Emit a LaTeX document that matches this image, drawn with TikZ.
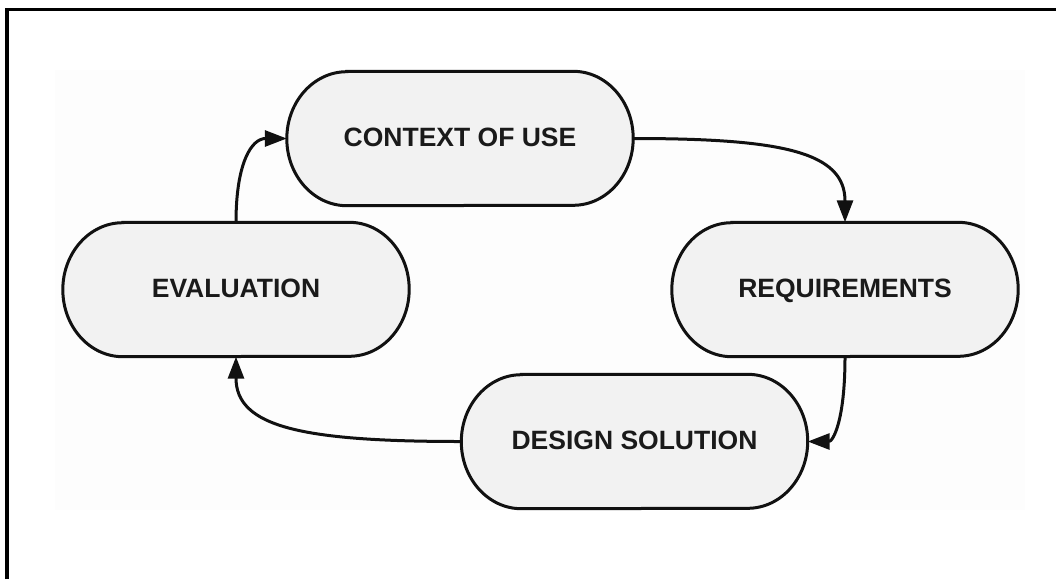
\documentclass[tikz,border=0pt]{standalone}
\usepackage{fontspec}
\setmainfont{Liberation Sans}
\usetikzlibrary{arrows.meta,backgrounds}
\definecolor{boxfill}{HTML}{F2F2F2}
\definecolor{ink}{HTML}{111111}
\definecolor{txt}{HTML}{1A1A1A}
\definecolor{bgpanel}{HTML}{FDFDFD}
\newcommand{\stadium}[1]{%
  \draw[stageshape] ($(#1.north west)+(60,0)$) -- ($(#1.north east)+(-60,0)$)
    arc[start angle=-90, end angle=90, x radius=60, y radius=67]
    -- ($(#1.south west)+(60,0)$)
    arc[start angle=90, end angle=270, x radius=60, y radius=67] -- cycle;}
\usetikzlibrary{calc}
\begin{document}
\begin{tikzpicture}[x=1pt,y=-1pt,
  stage/.style={minimum width=346pt, minimum height=134pt, inner sep=0pt,
    text height=19pt, text depth=3pt, text=txt,
    font=\fontsize{26.5}{30}\selectfont\bfseries},
  stageshape/.style={draw=ink, fill=boxfill, line width=3pt},
  flow/.style={draw=ink, line width=3pt, -{Triangle[length=22pt,width=16pt]}},
  frame/.style={draw=black, line width=3.5pt}
]
\useasboundingbox (0,0) rectangle (1056,579);

\node[stage] (ctx) at (460,138.5) {CONTEXT OF USE};
\node[stage] (req) at (845,289.5) {REQUIREMENTS};
\node[stage] (ev)  at (236,289.5) {EVALUATION};
\node[stage] (ds)  at (634.5,441.5) {DESIGN SOLUTION};

\begin{pgfonlayer}{background}
  \fill[bgpanel] (55,70) rectangle (1025,510);
  \draw[frame] (7,579) -- (7,9.5) -- (1056,9.5);
  \stadium{ctx}
  \stadium{req}
  \stadium{ev}
  \stadium{ds}
\end{pgfonlayer}

\draw[flow] (ev.north) .. controls +(0,-60) and +(-35,0) .. (ctx.west);
\draw[flow] (ctx.east) .. controls +(150,0) and +(0,-70) .. (req.north);
\draw[flow] (req.south) .. controls +(0,65) and +(25,0) .. (ds.east);
\draw[flow] (ds.west) .. controls +(-160,0) and +(0,70) .. (ev.south);
\end{tikzpicture}
\end{document}
